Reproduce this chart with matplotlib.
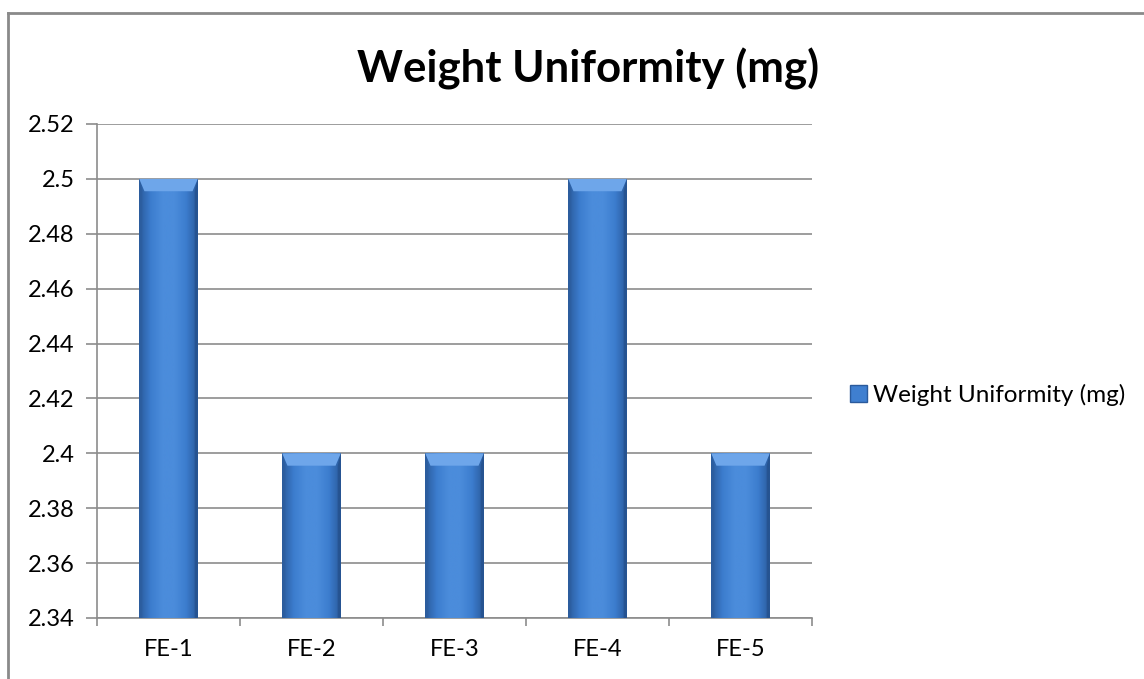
import numpy as np
import matplotlib
matplotlib.use("Agg")
import matplotlib.pyplot as plt
from matplotlib.colors import LinearSegmentedColormap
from matplotlib.patches import Polygon, Rectangle
from matplotlib.lines import Line2D

categories = ["FE-1", "FE-2", "FE-3", "FE-4", "FE-5"]
weights = [2.50, 2.40, 2.40, 2.50, 2.40]
series_name = "Weight Uniformity (mg)"
y_ticks = [2.34, 2.36, 2.38, 2.40, 2.42, 2.44, 2.46, 2.48, 2.50, 2.52]
y_tick_labels = ["2.34", "2.36", "2.38", "2.4", "2.42", "2.44", "2.46", "2.48", "2.5", "2.52"]

plt.rcParams["font.family"] = ["Lato", "DejaVu Sans"]

W, H = 1144, 679
fig = plt.figure(figsize=(W / 100, H / 100), dpi=100)
ax = fig.add_axes([97 / W, 1 - 618 / H, (812 - 97) / W, (618 - 124) / H])

x = np.arange(len(categories))
bar_w = 0.41
bars = ax.bar(x, weights, width=bar_w, color="#3f7fd0", zorder=2, linewidth=0)

ymin, ymax = 2.34, 2.52
ax.set_ylim(ymin, ymax)
ax.set_xlim(-0.5, len(categories) - 0.5)

# horizontal shading across each bar: darker edges, lighter middle
shade = LinearSegmentedColormap.from_list(
    "barshade", ["#2a5a9c", "#3c7dce", "#4b8cdb", "#4b8cdb", "#3c7dce", "#2a5a9c"])
grad = np.linspace(0, 1, 256).reshape(1, -1)
for b in bars:
    x0, w, h = b.get_x(), b.get_width(), b.get_height()
    im = ax.imshow(grad, cmap=shade, aspect="auto",
                   extent=(x0, x0 + w, ymin, h), zorder=3)
    im.set_clip_path(b)
    # bevelled top edge
    dy = 0.0045
    dx = w * 0.09
    top = Polygon([(x0, h), (x0 + w, h), (x0 + w - dx, h - dy), (x0 + dx, h - dy)],
                  closed=True, facecolor="#6ea6ea", edgecolor="none", zorder=4)
    ax.add_patch(top)
    left = Polygon([(x0, h), (x0 + dx * 0.6, h - dy), (x0 + dx * 0.6, ymin), (x0, ymin)],
                   closed=True, facecolor="#2c5d9e", edgecolor="none", zorder=4, alpha=0.7)
    ax.add_patch(left)
    right = Polygon([(x0 + w, h), (x0 + w - dx * 0.6, h - dy), (x0 + w - dx * 0.6, ymin), (x0 + w, ymin)],
                    closed=True, facecolor="#244f8a", edgecolor="none", zorder=4, alpha=0.7)
    ax.add_patch(right)

ax.set_yticks(y_ticks)
ax.set_yticklabels(y_tick_labels)
ax.set_xticks(x)
ax.set_xticklabels(categories)
ax.set_xticks(np.arange(-0.5, len(categories)), minor=True)

ax.grid(axis="y", color="#8c8c8c", linewidth=1.2, zorder=0)
ax.set_axisbelow(True)
for s in ["top", "right"]:
    ax.spines[s].set_visible(False)
for s in ["left", "bottom"]:
    ax.spines[s].set_color("#8c8c8c")
    ax.spines[s].set_linewidth(1.2)

ax.tick_params(axis="y", which="major", length=8, width=1.2, color="#8c8c8c",
               labelsize=17, pad=8, labelcolor="black")
ax.tick_params(axis="x", which="major", length=0, labelsize=17, pad=15, labelcolor="black")
ax.tick_params(axis="x", which="minor", length=6, width=1.2, color="#8c8c8c")

fig.text(588 / W, 1 - 82 / H, series_name, ha="center", va="baseline",
         fontsize=31.5, fontweight="bold", color="black")

# legend entry
handle = Rectangle((0, 0), 1, 1, facecolor="#3f7fd0", edgecolor="#2a5a9c", linewidth=1)
fig.legend([handle], [series_name], loc="center left",
           bbox_to_anchor=(850 / W, 1 - 395 / H), frameon=False,
           fontsize=17.5, handlelength=0.7, handleheight=0.7, handletextpad=0.25,
           borderpad=0, borderaxespad=0)

# outer chart border (top and left edges)
fig.add_artist(Line2D([8 / W, 1143 / W], [1 - 13 / H, 1 - 13 / H],
                      transform=fig.transFigure, color="#8a8a8a", linewidth=2))
fig.add_artist(Line2D([8 / W, 8 / W], [1 - 13 / H, 0],
                      transform=fig.transFigure, color="#8a8a8a", linewidth=2))

fig.savefig("out.png", dpi=100, facecolor="white")
